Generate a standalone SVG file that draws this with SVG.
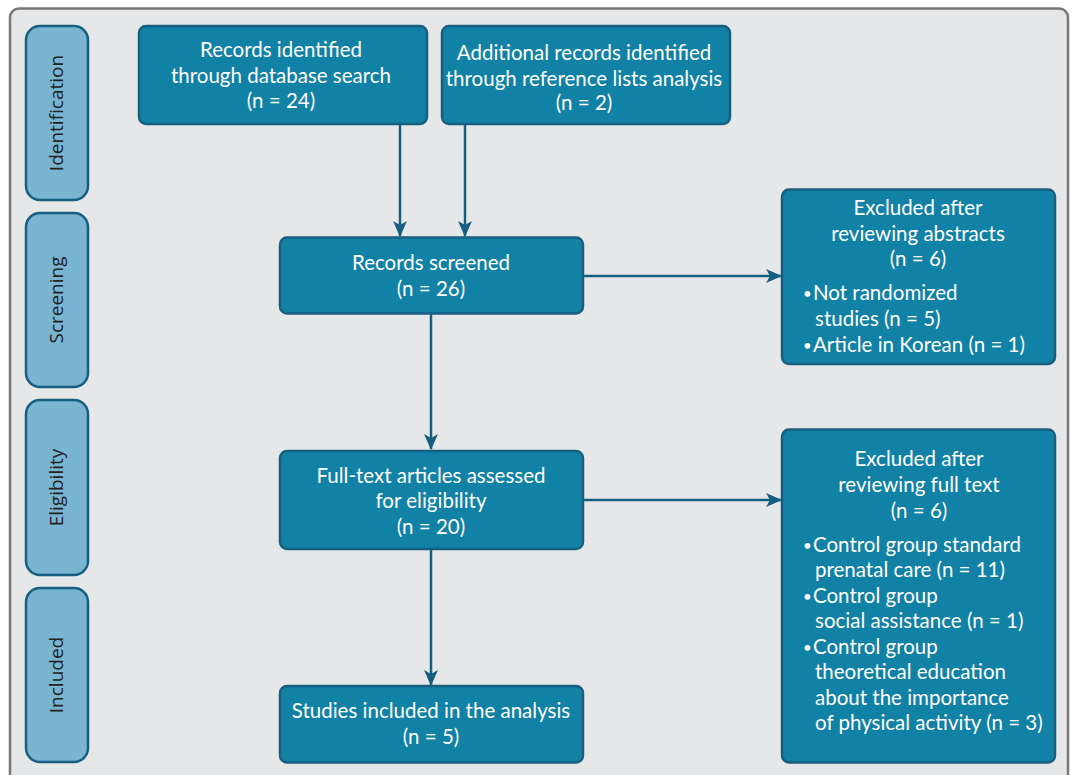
<svg xmlns="http://www.w3.org/2000/svg" width="1075" height="775" viewBox="0 0 1075 775">
<defs>
<marker id="ah" markerUnits="userSpaceOnUse" markerWidth="16" markerHeight="14" refX="15" refY="7" orient="auto">
<path d="M0,0 L16,7 L0,14 L4,7 Z" fill="#175f80"/>
</marker>
<style>
.box{fill:#1181a6;stroke:#175f80;stroke-width:2.5}
.side{fill:#79b4d1;stroke:#175f80;stroke-width:2.5}
.t{font-family:"Source Sans Pro","Lato","Liberation Sans",sans-serif;font-size:20.5px;fill:#ffffff;text-anchor:middle}
.tl{font-family:"Source Sans Pro","Lato","Liberation Sans",sans-serif;font-size:20.5px;fill:#ffffff}
.b{font-family:"Lato","Liberation Sans",sans-serif;font-size:15px;fill:#ffffff}
.s{font-family:"Open Sans","Liberation Sans",sans-serif;font-size:19px;fill:#222222;text-anchor:middle}
.c{stroke:#175f80;stroke-width:2.5;fill:none}
</style>
</defs>
<rect width="1075" height="775" fill="#ffffff"/>
<rect x="10" y="8.5" width="1058" height="800" rx="9" fill="#e6e7e9" stroke="#777777" stroke-width="2.5"/>

<g id="side-identification">
<rect class="side" x="26" y="26" width="62" height="174" rx="14"/>
<text class="s" transform="translate(63,113) rotate(-90)">Identification</text>
</g>
<g id="side-screening">
<rect class="side" x="26" y="213" width="62" height="174" rx="14"/>
<text class="s" transform="translate(63,300) rotate(-90)">Screening</text>
</g>
<g id="side-eligibility">
<rect class="side" x="26" y="400" width="62" height="175" rx="14"/>
<text class="s" transform="translate(63,487.5) rotate(-90)">Eligibility</text>
</g>
<g id="side-included">
<rect class="side" x="26" y="588" width="62" height="174" rx="14"/>
<text class="s" transform="translate(63,675) rotate(-90)">Included</text>
</g>

<g id="connectors">
<line class="c" x1="400" y1="124" x2="400" y2="236" marker-end="url(#ah)"/>
<line class="c" x1="465" y1="124" x2="465" y2="236" marker-end="url(#ah)"/>
<line class="c" x1="431" y1="313" x2="431" y2="449" marker-end="url(#ah)"/>
<line class="c" x1="431" y1="549" x2="431" y2="685" marker-end="url(#ah)"/>
<line class="c" x1="569" y1="276" x2="781" y2="276" marker-end="url(#ah)"/>
<line class="c" x1="568" y1="500" x2="781" y2="500" marker-end="url(#ah)"/>
</g>

<g id="records-db">
<rect class="box" x="139" y="26" width="288" height="98" rx="7"/>
<text class="t" x="281" y="57">Records identified</text>
<text class="t" x="281" y="83">through database search</text>
<text class="t" x="281" y="108">(n = 24)</text>
</g>
<g id="records-additional">
<rect class="box" x="442" y="26" width="288" height="98" rx="7"/>
<text class="t" x="584" y="60">Additional records identified</text>
<text class="t" x="584" y="86">through reference lists analysis</text>
<text class="t" x="584" y="110">(n = 2)</text>
</g>
<g id="records-screened">
<rect class="box" x="280" y="237.5" width="303" height="76" rx="7"/>
<text class="t" x="431" y="270">Records screened</text>
<text class="t" x="431" y="296">(n = 26)</text>
</g>
<g id="excluded-abstracts">
<rect class="box" x="782" y="189.5" width="273" height="174.5" rx="7"/>
<text class="t" x="918" y="215">Excluded after</text>
<text class="t" x="918" y="241">reviewing abstracts</text>
<text class="t" x="918" y="266">(n = 6)</text>
<text class="b" x="803" y="299">•</text>
<text class="tl" x="813" y="300">Not randomized</text>
<text class="tl" x="815" y="326">studies (n = 5)</text>
<text class="b" x="803" y="351">•</text>
<text class="tl" x="813" y="352">Article in Korean (n = 1)</text>
</g>
<g id="fulltext">
<rect class="box" x="280" y="451" width="303" height="98" rx="7"/>
<text class="t" x="431" y="483">Full-text articles assessed</text>
<text class="t" x="431" y="508">for eligibility</text>
<text class="t" x="431" y="534">(n = 20)</text>
</g>
<g id="excluded-fulltext">
<rect class="box" x="782" y="429.5" width="273" height="333" rx="7"/>
<text class="t" x="919" y="466">Excluded after</text>
<text class="t" x="919" y="492">reviewing full text</text>
<text class="t" x="919" y="518">(n = 6)</text>
<text class="b" x="803" y="551">•</text>
<text class="tl" x="813" y="552">Control group standard</text>
<text class="tl" x="815" y="577">prenatal care (n = 11)</text>
<text class="b" x="803" y="602">•</text>
<text class="tl" x="813" y="603">Control group</text>
<text class="tl" x="815" y="628">social assistance (n = 1)</text>
<text class="b" x="803" y="653">•</text>
<text class="tl" x="813" y="654">Control group</text>
<text class="tl" x="815" y="679">theoretical education</text>
<text class="tl" x="815" y="705">about the importance</text>
<text class="tl" x="815" y="730">of physical activity (n = 3)</text>
</g>
<g id="studies-included">
<rect class="box" x="280" y="686" width="303" height="76.5" rx="7"/>
<text class="t" x="431" y="718">Studies included in the analysis</text>
<text class="t" x="431" y="744">(n = 5)</text>
</g>
</svg>
